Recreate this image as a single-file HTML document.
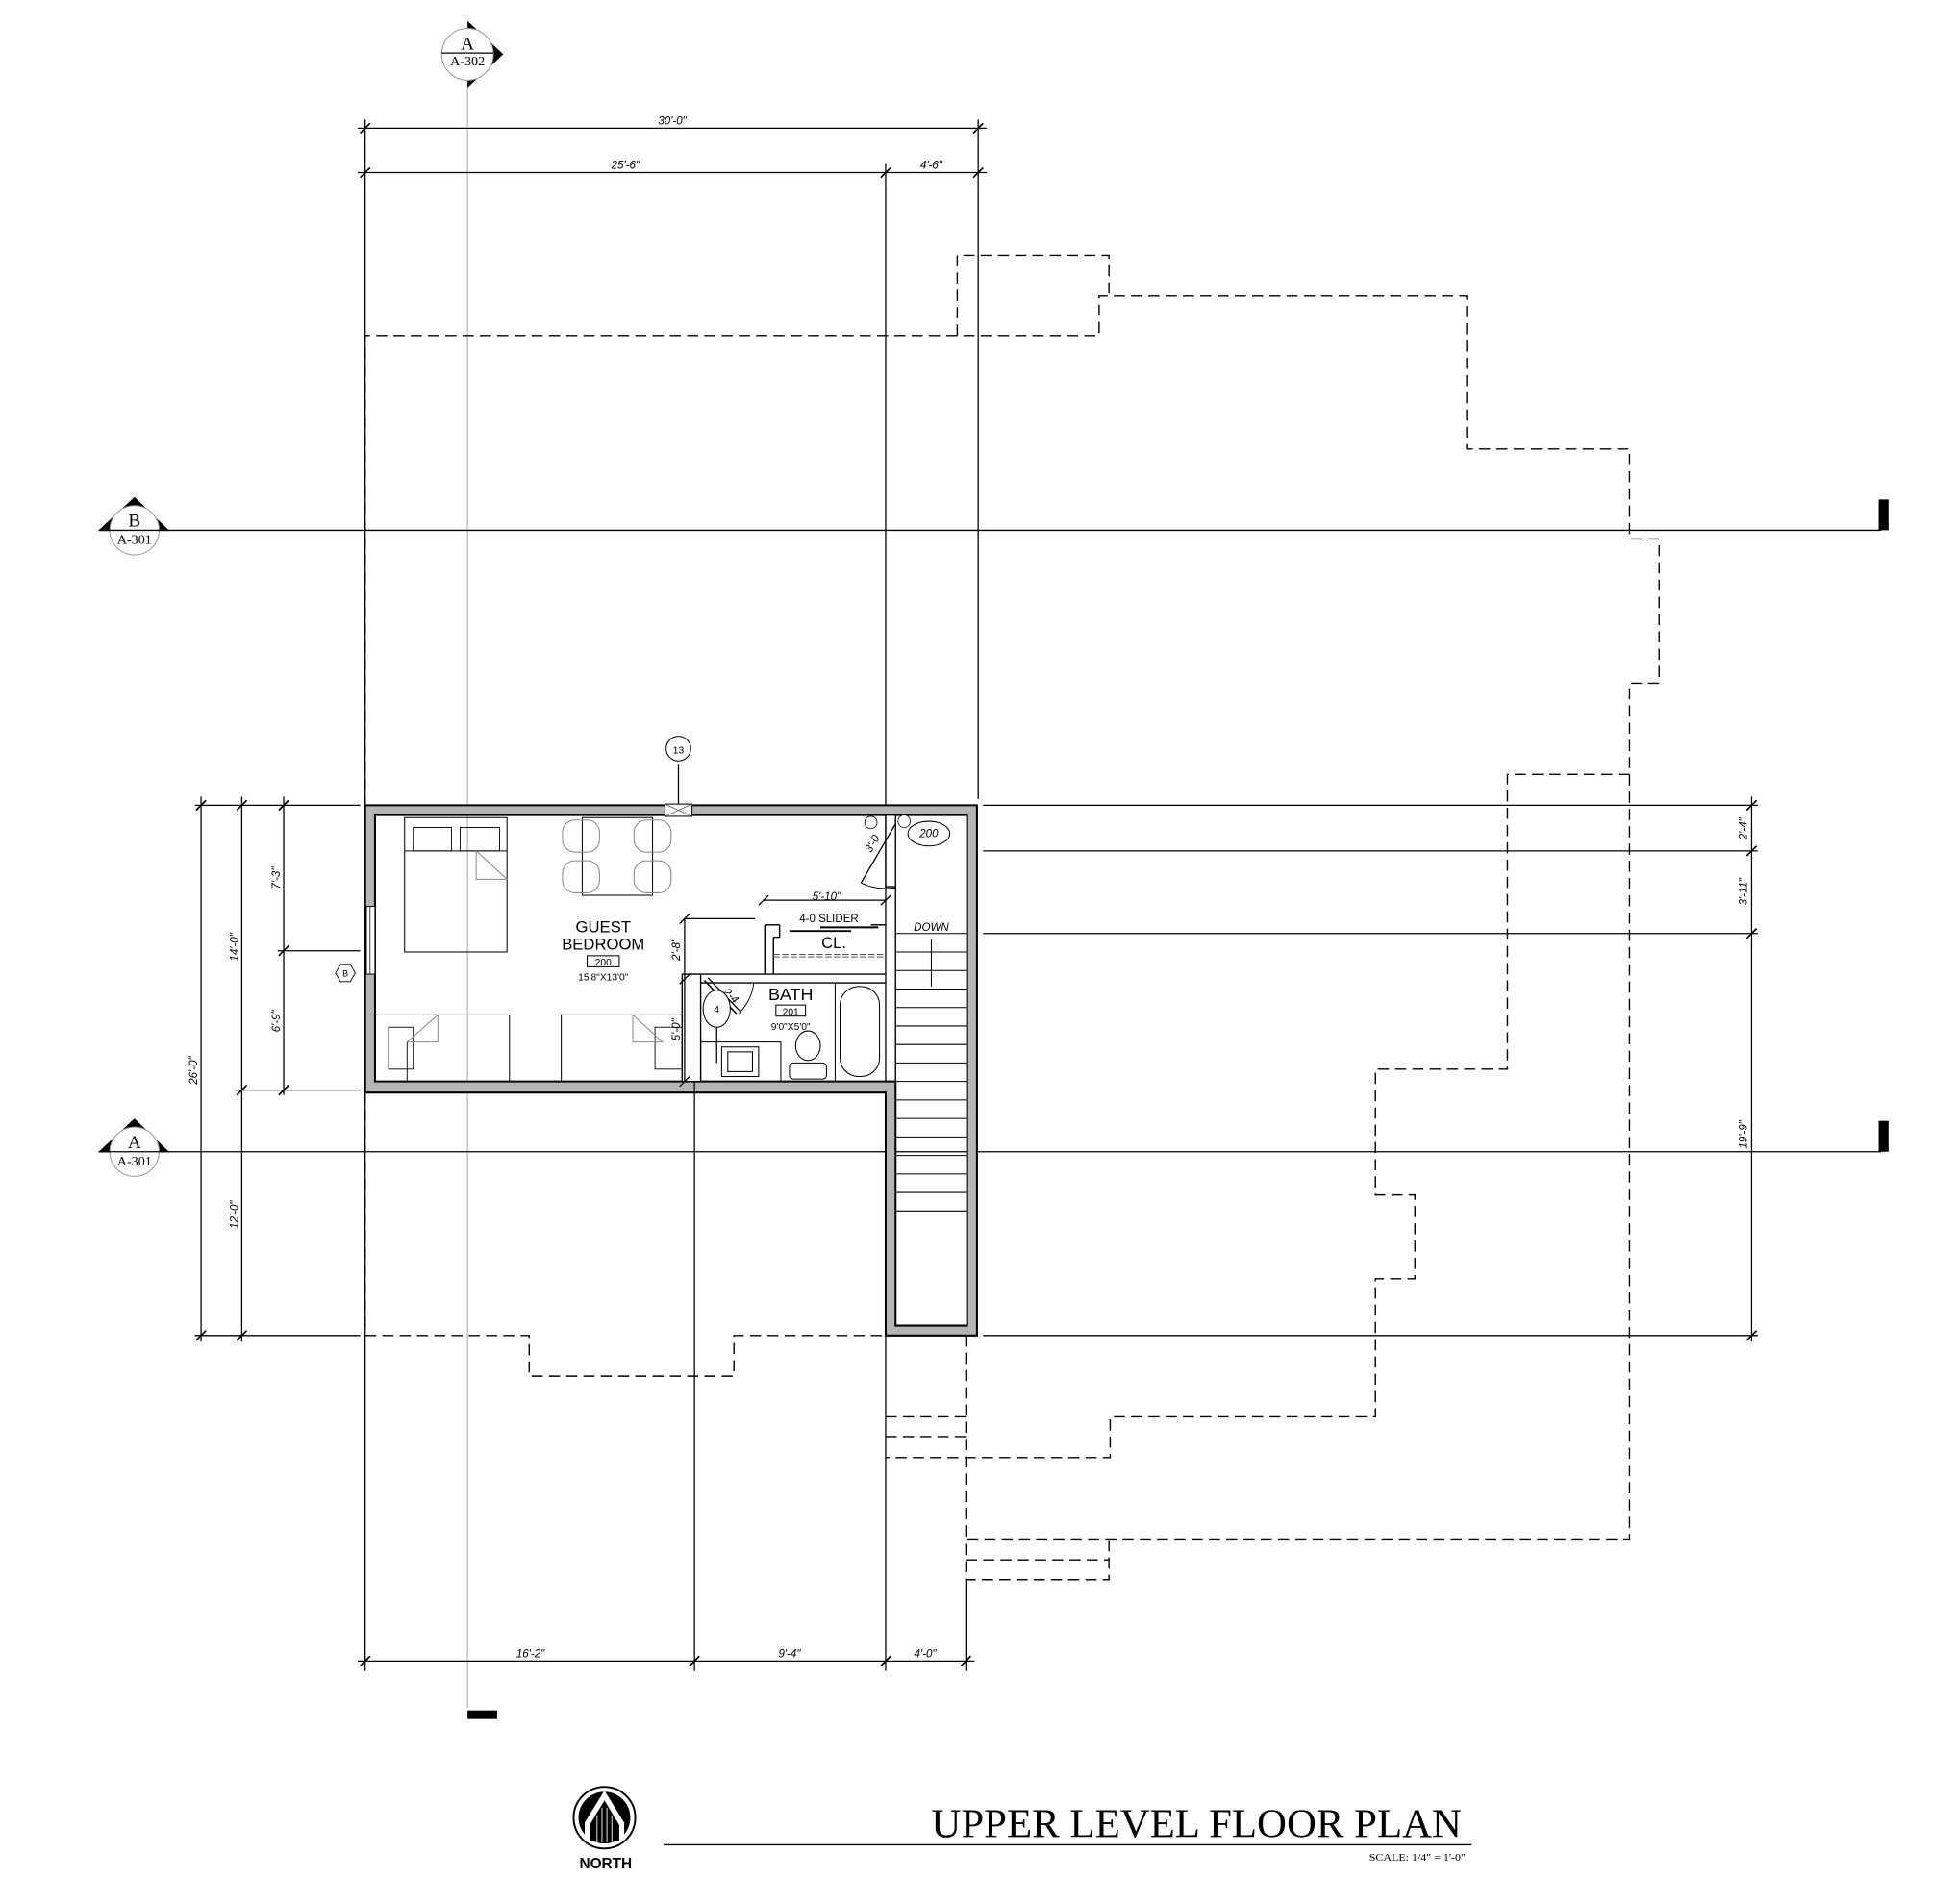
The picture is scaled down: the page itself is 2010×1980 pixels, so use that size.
<!DOCTYPE html>
<html><head><meta charset="utf-8"><style>
html,body{margin:0;padding:0;background:#fff;}
svg{display:block;}
text{font-family:"Liberation Sans",sans-serif;}
.d{stroke:#000;stroke-width:1.1;stroke-dasharray:9 5;fill:none;}
.l{stroke:#000;stroke-width:1;fill:none;}
.g{stroke:#888;stroke-width:0.8;fill:none;}
.t{font-size:9px;font-style:italic;}
</style></head><body>
<svg width="2010" height="1980" viewBox="0 0 1567 1544" preserveAspectRatio="none" xmlns="http://www.w3.org/2000/svg">
<rect width="1567" height="1544" fill="#fff"/>
<line x1="379" y1="60" x2="379" y2="1385" stroke="#bbb" stroke-width="1"/>
<rect x="379" y="1387" width="24" height="7" fill="#000"/>
<polygon points="379,17 408,44 379,71" fill="#000"/>
<circle cx="379" cy="44" r="21" fill="#fff" stroke="#999" stroke-width="0.8"/>
<line x1="358" y1="43" x2="400" y2="43" stroke="#000" stroke-width="1"/>
<text x="379" y="40" font-size="15" text-anchor="middle" style="font-family:'Liberation Serif',serif">A</text>
<text x="379" y="53" font-size="11" text-anchor="middle" style="font-family:'Liberation Serif',serif">A-302</text>

<g>
<line x1="80" y1="430" x2="1525" y2="430" class="l"/>
<rect x="1523" y="405" width="8" height="25" fill="#000"/>
<polygon points="80,430 109,403 137,430" fill="#000"/>
<circle cx="109" cy="430" r="20" fill="#fff" stroke="#999" stroke-width="0.8"/>
<line x1="80" y1="430" x2="137" y2="430" stroke="#000"/>
<text x="109" y="427" font-size="15" text-anchor="middle" style="font-family:'Liberation Serif',serif">B</text>
<text x="109" y="441" font-size="11" text-anchor="middle" style="font-family:'Liberation Serif',serif">A-301</text>
</g>
<g>
<line x1="80" y1="934" x2="1525" y2="934" class="l"/>
<rect x="1523" y="909" width="8" height="25" fill="#000"/>
<polygon points="80,934 109,907 137,934" fill="#000"/>
<circle cx="109" cy="934" r="20" fill="#fff" stroke="#999" stroke-width="0.8"/>
<line x1="80" y1="934" x2="137" y2="934" stroke="#000"/>
<text x="109" y="931" font-size="15" text-anchor="middle" style="font-family:'Liberation Serif',serif">A</text>
<text x="109" y="945" font-size="11" text-anchor="middle" style="font-family:'Liberation Serif',serif">A-301</text>
</g>

<line x1="290" y1="104" x2="800" y2="104" class="l"/>
<line x1="290" y1="140" x2="800" y2="140" class="l"/>
<line x1="296" y1="97" x2="296" y2="1355" class="l"/>
<line x1="718" y1="133" x2="718" y2="1355" class="l"/>
<line x1="793" y1="97" x2="793" y2="648" class="l"/>
<g stroke="#000" stroke-width="1.3">
<line x1="292" y1="108" x2="300" y2="100"/><line x1="789" y1="108" x2="797" y2="100"/>
<line x1="292" y1="144" x2="300" y2="136"/><line x1="714" y1="144" x2="722" y2="136"/><line x1="789" y1="144" x2="797" y2="136"/>
</g>
<text x="545" y="101" class="t" text-anchor="middle">30'-0"</text>
<text x="507" y="137" class="t" text-anchor="middle">25'-6"</text>
<text x="755" y="137" class="t" text-anchor="middle">4'-6"</text>

<polyline class="d" points="296,655 296,272 891,272 891,240 1189,240 1189,364 1321,364 1321,437 1345,437 1345,554 1321,554 1321,1248 783,1248 783,1281 899,1281 899,1248"/>
<line class="d" x1="783" y1="1265" x2="899" y2="1265"/>
<polyline class="d" points="776,272 776,207 899,207 899,240"/>
<polyline class="d" points="1321,628 1222,628 1222,867 1115,867 1115,969 1147,969 1147,1037 1115,1037 1115,1149 900,1149 900,1182 718,1182"/>
<line class="d" x1="718" y1="1149" x2="783" y2="1149"/>
<line class="d" x1="718" y1="1165" x2="783" y2="1165"/>
<line class="d" x1="783" y1="1083" x2="783" y2="1248"/>
<polyline class="d" points="296,1083 429,1083 429,1116 595,1116 595,1083 718,1083"/>
<line class="d" x1="296" y1="886" x2="296" y2="1083"/>

<path d="M296,653 H792 V1083 H718 V886 H296 Z M304,661 V877 H726 V1075 H784 V661 Z" fill="#b5b5b5" fill-rule="evenodd" stroke="#000" stroke-width="1.6"/>
<rect x="539" y="652" width="22" height="10" fill="#fff" stroke="#000" stroke-width="0.8"/>
<line x1="539" y1="652" x2="561" y2="662" stroke="#555" stroke-width="0.6"/><line x1="539" y1="662" x2="561" y2="652" stroke="#555" stroke-width="0.6"/>
<line x1="550" y1="620" x2="550" y2="652" class="l"/>
<circle cx="550" cy="607" r="10" fill="#fff" stroke="#000" stroke-width="0.8"/>
<text x="550" y="611" font-size="8" text-anchor="middle">13</text>
<rect x="297" y="735" width="7" height="55" fill="#fff" stroke="#000" stroke-width="0.8"/>
<line x1="300" y1="735" x2="300" y2="790" stroke="#000" stroke-width="0.6"/>
<polygon points="272,789 276,782 284,782 288,789 284,796 276,796" fill="#fff" stroke="#000" stroke-width="0.7"/>
<text x="280" y="792" font-size="7" text-anchor="middle">B</text>

<g stroke="#000" stroke-width="1.1" fill="#fff">
<rect x="718" y="661" width="8" height="58"/>
<rect x="553" y="790" width="15" height="87"/>
<line x1="568" y1="790" x2="718" y2="790"/>
<line x1="568" y1="797" x2="718" y2="797"/>
<line x1="620" y1="750" x2="620" y2="790"/>
<line x1="627" y1="760" x2="627" y2="790"/>
<line x1="620" y1="750" x2="632" y2="750"/>
<line x1="706" y1="750" x2="718" y2="750"/>
<line x1="632" y1="750" x2="632" y2="760"/>
<line x1="627" y1="760" x2="632" y2="760"/>
<line x1="726" y1="719" x2="726" y2="1075"/>
</g>
<line x1="640" y1="755" x2="690" y2="755" stroke="#000" stroke-width="1.5"/>
<line x1="665" y1="752" x2="712" y2="752" stroke="#000" stroke-width="1.5"/>
<line x1="627" y1="774" x2="718" y2="774" stroke="#555" stroke-width="0.8" stroke-dasharray="5 2"/>
<line x1="627" y1="776" x2="718" y2="776" stroke="#555" stroke-width="0.8" stroke-dasharray="5 2"/>
<text x="676" y="769" font-size="13" text-anchor="middle">CL.</text>
<text x="672" y="748" font-size="9" text-anchor="middle">4-0 SLIDER</text>
<line x1="619" y1="730" x2="718" y2="730" class="l"/>
<line x1="615" y1="734" x2="623" y2="726" stroke="#000"/><line x1="714" y1="734" x2="722" y2="726" stroke="#000"/>
<text x="670" y="730" class="t" text-anchor="middle">5'-10"</text>
<line x1="555" y1="745" x2="612" y2="745" class="l"/>
<line x1="555" y1="745" x2="555" y2="877" class="l"/>
<line x1="551" y1="749" x2="559" y2="741" stroke="#000"/><line x1="551" y1="798" x2="559" y2="790" stroke="#000"/><line x1="551" y1="881" x2="559" y2="873" stroke="#000"/>
<text x="551" y="770" class="t" text-anchor="middle" transform="rotate(-90 551 770)">2'-8"</text>
<text x="551" y="835" class="t" text-anchor="middle" transform="rotate(-90 551 835)">5'-0"</text>
<line x1="563" y1="877" x2="563" y2="1355" class="l"/>

<line x1="726" y1="668" x2="698" y2="716" stroke="#000" stroke-width="1"/>
<path d="M698,716 Q710,722 726,720" stroke="#000" stroke-width="0.8" fill="none"/>
<text x="706" y="692" class="t" transform="rotate(-60 706 692)">3'-0</text>
<circle cx="706" cy="667" r="5" fill="#fff" stroke="#000" stroke-width="0.6"/>
<circle cx="733" cy="666" r="5" fill="#fff" stroke="#000" stroke-width="0.6"/>
<ellipse cx="753" cy="676" rx="17" ry="10" fill="#fff" stroke="#000" stroke-width="0.8"/>
<text x="753" y="679" class="t" text-anchor="middle">200</text>
<line x1="571" y1="795" x2="597" y2="822" stroke="#000" stroke-width="1.2"/>
<line x1="574" y1="793" x2="600" y2="820" stroke="#000" stroke-width="1"/>
<path d="M599,822 Q610,810 611,797" stroke="#000" stroke-width="0.7" fill="none"/>
<text x="586" y="805" class="t" transform="rotate(45 586 805)">2-4</text>
<ellipse cx="581" cy="818" rx="11" ry="15" fill="#fff" stroke="#000" stroke-width="0.8"/>
<text x="581" y="821" font-size="8" text-anchor="middle">4</text>
<line x1="581" y1="833" x2="581" y2="862" class="l"/>
<rect x="568" y="845" width="65" height="32" fill="none" stroke="#000" stroke-width="0.8"/>
<rect x="585" y="849" width="30" height="24" fill="none" stroke="#000" stroke-width="0.8"/>
<rect x="590" y="853" width="20" height="16" fill="none" stroke="#000" stroke-width="0.8"/>
<ellipse cx="655" cy="848" rx="10" ry="12" fill="none" stroke="#000" stroke-width="0.8"/>
<rect x="640" y="862" width="30" height="13" rx="3" fill="none" stroke="#000" stroke-width="0.8"/>
<rect x="677" y="797" width="41" height="80" fill="none" stroke="#000" stroke-width="0.8"/>
<rect x="681" y="800" width="32" height="73" rx="15" fill="none" stroke="#000" stroke-width="0.8"/>
<text x="641" y="811" font-size="14" text-anchor="middle">BATH</text>
<rect x="629" y="815" width="24" height="9" fill="none" stroke="#000" stroke-width="0.8"/>
<text x="641" y="823" font-size="8" text-anchor="middle">201</text>
<text x="641" y="835" font-size="8" text-anchor="middle">9'0"X5'0"</text>
<text x="489" y="756" font-size="13" text-anchor="middle">GUEST</text>
<text x="489" y="770" font-size="13" text-anchor="middle">BEDROOM</text>
<rect x="476" y="775" width="26" height="9" fill="none" stroke="#000" stroke-width="0.8"/>
<text x="489" y="783" font-size="8" text-anchor="middle">200</text>
<text x="489" y="795" font-size="8" text-anchor="middle">15'8"X13'0"</text>
<rect x="328" y="663" width="83" height="109" fill="none" stroke="#000" stroke-width="0.8"/>
<line x1="328" y1="690" x2="411" y2="690" stroke="#000" stroke-width="0.8"/>
<rect x="335" y="671" width="31" height="19" fill="none" stroke="#000" stroke-width="0.7"/>
<rect x="373" y="671" width="32" height="19" fill="none" stroke="#000" stroke-width="0.7"/>
<polyline points="386,690 411,713 386,713 386,690" class="g"/>
<rect x="472" y="663" width="57" height="63" fill="none" stroke="#000" stroke-width="0.8"/>
<g class="g"><rect x="456" y="665" width="30" height="26" rx="10"/><rect x="514" y="665" width="30" height="26" rx="10"/><rect x="456" y="698" width="30" height="26" rx="10"/><rect x="514" y="698" width="30" height="26" rx="10"/></g>
<rect x="304" y="823" width="109" height="54" fill="none" stroke="#000" stroke-width="0.8"/>
<rect x="315" y="833" width="20" height="34" fill="none" stroke="#000" stroke-width="0.7"/>
<line x1="330" y1="845" x2="330" y2="877" stroke="#000" stroke-width="0.7"/>
<polyline points="330,845 355,823 355,845 330,845" class="g"/>
<rect x="455" y="823" width="98" height="54" fill="none" stroke="#000" stroke-width="0.8"/>
<rect x="531" y="833" width="22" height="34" fill="none" stroke="#000" stroke-width="0.7"/>
<polyline points="513,823 513,845 537,845 513,823" class="g"/>
<g stroke="#000" stroke-width="0.8">
<line x1="726" y1="757" x2="784" y2="757"/>
<line x1="726" y1="772" x2="784" y2="772"/><line x1="726" y1="787" x2="784" y2="787"/>
<line x1="726" y1="802" x2="784" y2="802"/><line x1="726" y1="817" x2="784" y2="817"/>
<line x1="726" y1="832" x2="784" y2="832"/><line x1="726" y1="847" x2="784" y2="847"/>
<line x1="726" y1="862" x2="784" y2="862"/><line x1="726" y1="877" x2="784" y2="877"/>
<line x1="726" y1="892" x2="784" y2="892"/><line x1="726" y1="907" x2="784" y2="907"/>
<line x1="726" y1="922" x2="784" y2="922"/><line x1="726" y1="937" x2="784" y2="937"/>
<line x1="726" y1="952" x2="784" y2="952"/><line x1="726" y1="967" x2="784" y2="967"/>
<line x1="726" y1="982" x2="784" y2="982"/>
<line x1="755" y1="762" x2="755" y2="800"/>
</g>
<text x="755" y="755" class="t" text-anchor="middle">DOWN</text>

<g class="l">
<line x1="797" y1="653" x2="1425" y2="653"/>
<line x1="797" y1="690" x2="1425" y2="690"/>
<line x1="797" y1="757" x2="1425" y2="757"/>
<line x1="797" y1="1083" x2="1425" y2="1083"/>
<line x1="1420" y1="646" x2="1420" y2="1088"/>
</g>
<g stroke="#000" stroke-width="1.3">
<line x1="1416" y1="657" x2="1424" y2="649"/><line x1="1416" y1="694" x2="1424" y2="686"/><line x1="1416" y1="761" x2="1424" y2="753"/><line x1="1416" y1="1087" x2="1424" y2="1079"/>
</g>
<text x="1416" y="672" class="t" text-anchor="middle" transform="rotate(-90 1416 672)">2'-4"</text>
<text x="1416" y="723" class="t" text-anchor="middle" transform="rotate(-90 1416 723)">3'-11"</text>
<text x="1416" y="920" class="t" text-anchor="middle" transform="rotate(-90 1416 920)">19'-9"</text>

<g class="l">
<line x1="158" y1="653" x2="292" y2="653"/>
<line x1="225" y1="771" x2="292" y2="771"/>
<line x1="190" y1="884" x2="292" y2="884"/>
<line x1="158" y1="1083" x2="292" y2="1083"/>
<line x1="163" y1="646" x2="163" y2="1088"/>
<line x1="196" y1="646" x2="196" y2="1088"/>
<line x1="230" y1="646" x2="230" y2="888"/>
</g>
<g stroke="#000" stroke-width="1.3">
<line x1="159" y1="657" x2="167" y2="649"/><line x1="159" y1="1087" x2="167" y2="1079"/>
<line x1="192" y1="657" x2="200" y2="649"/><line x1="192" y1="888" x2="200" y2="880"/><line x1="192" y1="1087" x2="200" y2="1079"/>
<line x1="226" y1="657" x2="234" y2="649"/><line x1="226" y1="775" x2="234" y2="767"/><line x1="226" y1="888" x2="234" y2="880"/>
</g>
<text x="160" y="868" class="t" text-anchor="middle" transform="rotate(-90 160 868)">26'-0"</text>
<text x="193" y="768" class="t" text-anchor="middle" transform="rotate(-90 193 768)">14'-0"</text>
<text x="193" y="985" class="t" text-anchor="middle" transform="rotate(-90 193 985)">12'-0"</text>
<text x="227" y="712" class="t" text-anchor="middle" transform="rotate(-90 227 712)">7'-3"</text>
<text x="227" y="828" class="t" text-anchor="middle" transform="rotate(-90 227 828)">6'-9"</text>

<line x1="290" y1="1347" x2="790" y2="1347" class="l"/>
<line x1="783" y1="1281" x2="783" y2="1355" class="l"/>
<g stroke="#000" stroke-width="1.3">
<line x1="292" y1="1351" x2="300" y2="1343"/><line x1="559" y1="1351" x2="567" y2="1343"/><line x1="714" y1="1351" x2="722" y2="1343"/><line x1="779" y1="1351" x2="787" y2="1343"/>
</g>
<text x="430" y="1344" class="t" text-anchor="middle">16'-2"</text>
<text x="640" y="1344" class="t" text-anchor="middle">9'-4"</text>
<text x="750" y="1344" class="t" text-anchor="middle">4'-0"</text>

<circle cx="490" cy="1474" r="25" fill="#fff" stroke="#000" stroke-width="1.5"/>
<circle cx="490" cy="1474" r="21" fill="#000"/>
<polygon points="490,1452 474,1478 474,1492 506,1492 506,1478" fill="#fff"/>
<polygon points="490,1460 478,1480 478,1493 502,1493 502,1480" fill="#000"/>
<g stroke="#fff" stroke-width="0.7"><line x1="484" y1="1472" x2="484" y2="1494"/><line x1="488" y1="1466" x2="488" y2="1494"/><line x1="492" y1="1466" x2="492" y2="1494"/><line x1="496" y1="1472" x2="496" y2="1494"/></g>
<text x="491" y="1515" font-size="12" font-weight="bold" text-anchor="middle">NORTH</text>
<text x="755" y="1490" font-size="33" textLength="430" lengthAdjust="spacingAndGlyphs" style="font-family:'Liberation Serif',serif">UPPER LEVEL FLOOR PLAN</text>
<line x1="538" y1="1496" x2="1193" y2="1496" stroke="#000" stroke-width="1"/>
<text x="1110" y="1509" font-size="8" textLength="78" lengthAdjust="spacingAndGlyphs" style="font-family:'Liberation Serif',serif">SCALE: 1/4" = 1'-0"</text>
</svg>
</body></html>
